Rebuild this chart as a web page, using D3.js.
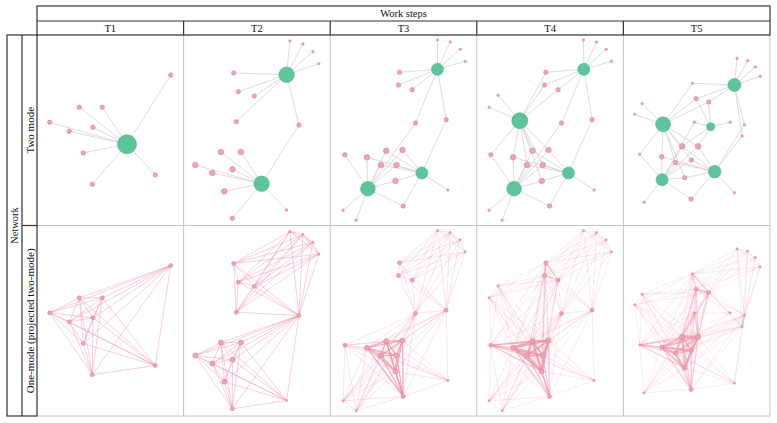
<!DOCTYPE html>
<html>
<head>
<meta charset="utf-8">
<script src="https://d3js.org/d3.v7.min.js"></script>
<style>
  body { margin: 0; background: #fff; }
  text { font-family: "Liberation Serif", "DejaVu Serif", serif; fill: #111; }
</style>
</head>
<body>
<div id="vis"></div>
<script>
// column / row labels
const steps = ['T1', 'T2', 'T3', 'T4', 'T5'];
const modes = ['Two mode', 'One-mode (projected two-mode)'];

// hubs (work-step actors): [id, layoutX, layoutY, radius]
// pink nodes: [layoutX, layoutY, sizeClass, hubs it links to]
const t1Hubs = [['A', 90, 109.3, 9.5]];
const t1Nodes = [
  [133.7, 40, 2, 'A'], [42.3, 72.3, 2, 'A'], [65.3, 72.3, 2, 'A'], [12.7, 87.3, 2, 'A'],
  [32.3, 96.3, 2, 'A'], [56, 92.3, 2, 'A'], [46.3, 118, 2, 'A'], [118.3, 140, 2, 'A'],
  [55.3, 149.3, 2, 'A']
];

const t2Hubs = [['A', 103, 39.7, 7.7], ['B', 78, 148.7, 7.7]];
const t2Nodes = [
  [106.3, 6, 1, 'A'], [119.3, 9, 1, 'A'], [129.3, 16.7, 1, 'A'], [135.3, 28.7, 1, 'A'],
  [50, 38, 2, 'A'], [54.7, 56.7, 2, 'A'], [70.7, 61, 2, 'A'], [52.7, 86.7, 2, 'A'],
  [115.3, 90, 2, 'AB'],
  [37.3, 117, 3, 'B'], [57.3, 117, 3, 'B'], [11.7, 130, 3, 'B'], [28.7, 138, 3, 'B'],
  [49, 134.3, 3, 'B'], [40.7, 156.3, 3, 'B'], [103, 175, 1, 'B'], [48.7, 183.3, 2, 'B']
];

const t3Hubs = [['C', 107.3, 34.3, 6], ['D', 91.7, 138, 6], ['E', 37.7, 153.7, 7.3]];
const t3Nodes = [
  [107.3, 5, 1, 'C'], [120, 7, 1, 'C'], [130, 14.3, 1, 'C'], [135, 26.3, 1, 'C'],
  [69.3, 37.3, 2, 'C'], [68.3, 50, 2, 'C'], [82, 54.7, 2, 'C'],
  [85.3, 88, 2, 'CE'], [116, 84.7, 2, 'CD'], [14.7, 119.7, 2, 'E'],
  [36.7, 122.3, 3, 'DE'], [56, 115.7, 3, 'DE'], [72.3, 115, 3, 'DE'],
  [50.7, 130, 3, 'DE'], [66.3, 130, 3, 'DE'], [65.3, 146, 3, 'DE'],
  [117.7, 155, 1, 'D'], [73, 171, 2, 'DE'], [13, 175.3, 1, 'E'], [26, 185.3, 1, 'E']
];

const t4Hubs = [['F', 107, 34.3, 6], ['G', 43, 85.7, 8], ['H', 91.7, 138, 6], ['I', 37.3, 153.7, 7.3]];
const t4Nodes = [
  [106.7, 5, 1, 'F'], [119.7, 7, 1, 'F'], [129.3, 14.3, 1, 'F'], [134.7, 26.3, 1, 'F'],
  [69, 37.3, 2, 'FG'], [67.7, 50, 2, 'FG'], [81.3, 54.7, 2, 'FG'],
  [21.3, 60.3, 1, 'G'], [12.3, 72.3, 1, 'G'],
  [84.7, 88, 2, 'FI'], [115.3, 84.7, 2, 'FH'], [14, 119.7, 2, 'GI'],
  [36.3, 122.3, 3, 'GHI'], [55.7, 115.7, 3, 'GHI'], [71.7, 115, 3, 'GHI'],
  [50.3, 130, 3, 'GHI'], [66, 130, 3, 'GHI'], [65, 146, 3, 'GHI'],
  [117.3, 155, 1, 'H'], [72.7, 171, 2, 'HI'], [12.3, 175.3, 1, 'I'], [25.3, 185.3, 1, 'I']
];

const t5Hubs = [['J', 111, 50, 6.5], ['K', 39.7, 89.3, 7.5], ['L', 87.3, 91.7, 4],
  ['M', 91.3, 136.7, 6.3], ['N', 38.7, 144.7, 6]];
const t5Nodes = [
  [113.7, 23.3, 1, 'J'], [124.3, 25.7, 1, 'J'], [132, 32, 1, 'J'], [136.7, 41.3, 1, 'J'],
  [69, 48.3, 1, 'JK'], [72.7, 63.7, 2, 'JKL'], [85.3, 67, 2, 'JKL'],
  [18.7, 68.7, 1, 'K'], [11.3, 79.3, 1, 'K'],
  [71, 87.3, 1, 'LN'], [106.7, 87.3, 1, 'L'],
  [121, 89.7, 1, 'JM'], [118.7, 101, 1, 'JM'],
  [58.7, 111.3, 3, 'KLMN'], [74.7, 111.3, 3, 'KLMN'], [16.3, 119.3, 1, 'KN'],
  [38.3, 121.7, 2, 'KMN'], [52, 127.7, 2, 'KMN'], [68, 125, 2, 'KMN'], [61.3, 142.7, 2, 'KMN'],
  [111, 157.7, 1, 'M'], [67.7, 164, 2, 'NM'], [20.7, 167.3, 1, 'N']
];

const networks = [
  { hubs: t1Hubs, nodes: t1Nodes }, { hubs: t2Hubs, nodes: t2Nodes },
  { hubs: t3Hubs, nodes: t3Nodes }, { hubs: t4Hubs, nodes: t4Nodes },
  { hubs: t5Hubs, nodes: t5Nodes }
];

const W = 777, H = 423;
const svg = d3.select('#vis').append('svg').attr('width', W).attr('height', H);

const gridLeft = 37, gridRight = 770, headTop = 6, headMid = 21, gridTop = 35, gridBottom = 416;
const col = d3.scaleBand().domain(steps).range([gridLeft, gridRight]);
const row = d3.scaleBand().domain(modes).range([gridTop, gridBottom]);
const sizeR = d3.scaleOrdinal().domain([1, 2, 3]).range([1.2, 2.2, 2.8]);

const pinkFill = '#eea4b6', pinkStroke = '#d68499';
const greenFill = '#5cc59b', greenStroke = '#4db28a';

steps.forEach((step, i) => {
  const net = networks[i];
  const x = d3.scaleLinear().domain([0, col.bandwidth()]).range([col(step), col(step) + col.bandwidth()]);
  const hubById = new Map(net.hubs.map(h => [h[0], h]));

  // two-mode panel
  const y2 = d3.scaleLinear().domain([0, row.bandwidth()]).range([row(modes[0]), row(modes[0]) + row.bandwidth()]);
  const g2 = svg.append('g');
  const links2 = [];
  net.nodes.forEach(n => n[3].split('').forEach(h => links2.push([n, hubById.get(h)])));
  g2.selectAll('line').data(links2).join('line')
    .attr('x1', d => x(d[0][0])).attr('y1', d => y2(d[0][1]))
    .attr('x2', d => x(d[1][1])).attr('y2', d => y2(d[1][2]))
    .attr('stroke', '#d6cdd0').attr('stroke-width', 0.75);
  g2.selectAll('circle.p').data(net.nodes).join('circle').attr('class', 'p')
    .attr('cx', d => x(d[0])).attr('cy', d => y2(d[1])).attr('r', d => sizeR(d[2]))
    .attr('fill', pinkFill).attr('stroke', pinkStroke).attr('stroke-width', 0.6);
  g2.selectAll('circle.h').data(net.hubs).join('circle').attr('class', 'h')
    .attr('cx', d => x(d[1])).attr('cy', d => y2(d[2])).attr('r', d => d[3])
    .attr('fill', greenFill).attr('stroke', greenStroke).attr('stroke-width', 0.6);

  // one-mode projection: pink nodes linked when they share hubs
  const y1 = d3.scaleLinear().domain([0, row.bandwidth()]).range([row(modes[1]), row(modes[1]) + row.bandwidth()]);
  const links1 = [];
  net.nodes.forEach((a, ai) => net.nodes.forEach((b, bi) => {
    if (bi <= ai) return;
    const w = a[3].split('').filter(h => b[3].includes(h)).length;
    if (w > 0) links1.push({ a, b, w });
  }));
  const maxW = d3.max(links1, d => d.w);
  const g1 = svg.append('g');
  g1.selectAll('line').data(links1.sort((p, q) => p.w - q.w)).join('line')
    .attr('x1', d => x(d.a[0])).attr('y1', d => y1(d.a[1]))
    .attr('x2', d => x(d.b[0])).attr('y2', d => y1(d.b[1]))
    .attr('stroke', '#ee8fa7')
    .attr('stroke-width', d => 0.6 + 0.75 * (d.w - 1))
    .attr('stroke-opacity', d => 0.15 + 0.55 * (d.w / maxW));
  g1.selectAll('circle').data(net.nodes).join('circle')
    .attr('cx', d => x(d[0])).attr('cy', d => y1(d[1])).attr('r', d => sizeR(d[2]) * 0.9)
    .attr('fill', pinkFill).attr('stroke', pinkStroke).attr('stroke-width', 0.6);
});

// table grid
const grid = svg.append('g').attr('stroke', '#c4c4c4').attr('stroke-width', 1);
steps.forEach(s => grid.append('line')
  .attr('x1', col(s) + col.bandwidth()).attr('x2', col(s) + col.bandwidth())
  .attr('y1', gridTop).attr('y2', gridBottom));
modes.forEach(m => grid.append('line')
  .attr('x1', gridLeft).attr('x2', gridRight)
  .attr('y1', row(m) + row.bandwidth()).attr('y2', row(m) + row.bandwidth()));

const frame = svg.append('g').attr('stroke', '#333').attr('stroke-width', 1.2).attr('fill', 'none');
frame.append('rect').attr('x', gridLeft).attr('y', headTop)
  .attr('width', gridRight - gridLeft).attr('height', gridTop - headTop);
frame.append('line').attr('x1', gridLeft).attr('x2', gridRight).attr('y1', headMid).attr('y2', headMid);
steps.slice(1).forEach(s => frame.append('line')
  .attr('x1', col(s)).attr('x2', col(s)).attr('y1', headMid).attr('y2', gridTop));
frame.append('rect').attr('x', 7).attr('y', gridTop)
  .attr('width', gridLeft - 7).attr('height', gridBottom - gridTop);
frame.append('line').attr('x1', 22).attr('x2', 22).attr('y1', gridTop).attr('y2', gridBottom);
frame.append('line').attr('x1', 22).attr('x2', gridLeft)
  .attr('y1', row(modes[1])).attr('y2', row(modes[1]));

// labels
svg.append('text').attr('x', (gridLeft + gridRight) / 2).attr('y', (headTop + headMid) / 2)
  .attr('text-anchor', 'middle').attr('dominant-baseline', 'central')
  .attr('font-size', 10.5).text('Work steps');
svg.selectAll('text.step').data(steps).join('text').attr('class', 'step')
  .attr('x', d => col(d) + col.bandwidth() / 2).attr('y', (headMid + gridTop) / 2)
  .attr('text-anchor', 'middle').attr('dominant-baseline', 'central')
  .attr('font-size', 10.5).text(d => d);
svg.append('text')
  .attr('transform', `translate(14.5,${(gridTop + gridBottom) / 2}) rotate(-90)`)
  .attr('text-anchor', 'middle').attr('dominant-baseline', 'central')
  .attr('font-size', 10.5).text('Network');
svg.selectAll('text.mode').data(modes).join('text').attr('class', 'mode')
  .attr('transform', d => `translate(29.5,${row(d) + row.bandwidth() / 2}) rotate(-90)`)
  .attr('text-anchor', 'middle').attr('dominant-baseline', 'central')
  .attr('font-size', 11).text(d => d);
</script>
</body>
</html>
